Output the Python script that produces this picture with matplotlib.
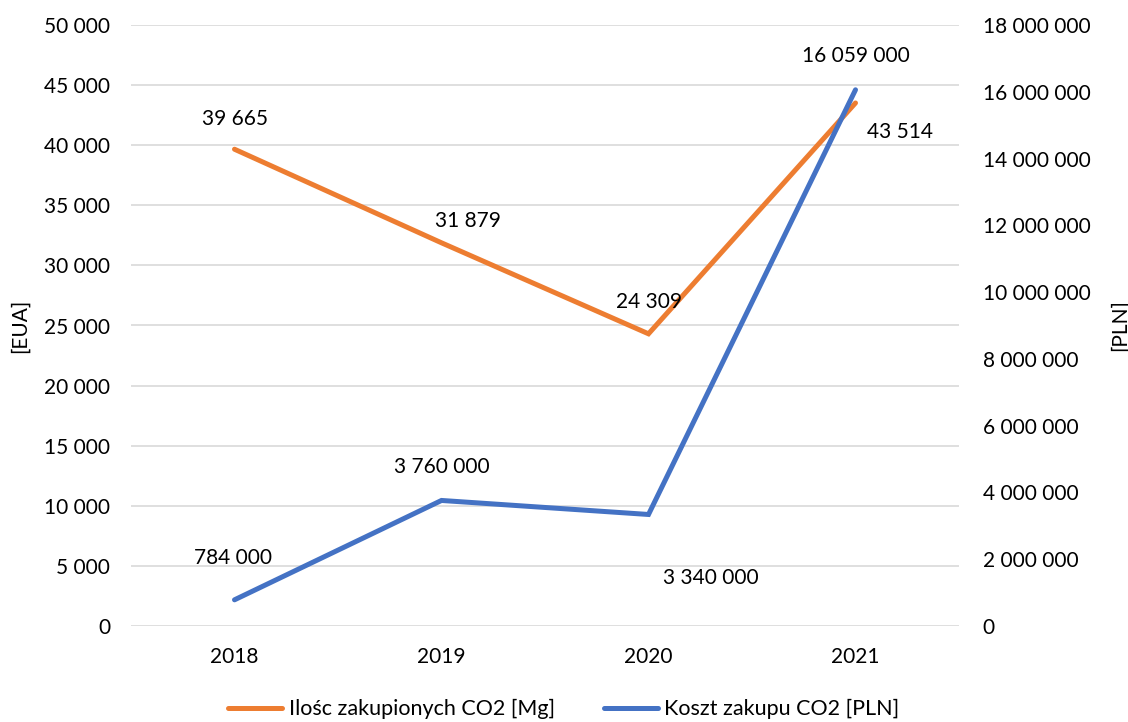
import matplotlib
matplotlib.use("Agg")
import matplotlib.pyplot as plt
from matplotlib.ticker import FuncFormatter, MultipleLocator

years = ["2018", "2019", "2020", "2021"]
ilosc = [39665, 31879, 24309, 43514]
koszt = [784000, 3760000, 3340000, 16059000]
name_ilosc = "Ilośc zakupionych CO2 [Mg]"
name_koszt = "Koszt zakupu CO2 [PLN]"

ORANGE = "#ED7D31"
BLUE = "#4472C4"
FONT = ["Lato", "DejaVu Sans"]
plt.rcParams["font.family"] = FONT
FS = 15

def sp(v, _=None):
    return f"{int(round(v)):,}".replace(",", " ")

W, H = 1128, 722
fig = plt.figure(figsize=(W/100, H/100), dpi=100)
L, R, T, B = 131, 959, 25, 626
ax = fig.add_axes([L/W, 1-B/H, (R-L)/W, (B-T)/H])
ax2 = ax.twinx()

x = list(range(len(years)))
l1, = ax.plot(x, ilosc, color=ORANGE, lw=3.6, solid_capstyle="round", solid_joinstyle="miter", zorder=3)
l2, = ax2.plot(x, koszt, color=BLUE, lw=3.6, solid_capstyle="round", solid_joinstyle="miter", zorder=3)

ax.set_xlim(-0.5, len(years)-0.5)
ax.set_ylim(0, 50000)
ax2.set_ylim(0, 18000000)
ax.yaxis.set_major_locator(MultipleLocator(5000))
ax2.yaxis.set_major_locator(MultipleLocator(2000000))
ax.yaxis.set_major_formatter(FuncFormatter(sp))
ax2.yaxis.set_major_formatter(FuncFormatter(sp))
ax.set_xticks(x)
ax.set_xticklabels(years)
ax.grid(axis="y", color="#D9D9D9", lw=1.2)
ax.set_axisbelow(True)
for a in (ax, ax2):
    for s in a.spines.values():
        s.set_visible(False)
    a.tick_params(length=0, labelsize=FS, colors="black")
ax.tick_params(axis="y", pad=15)
ax2.tick_params(axis="y", pad=17)
ax.tick_params(axis="x", pad=15)
ax.set_ylabel("[EUA]", fontsize=FS, labelpad=10)
ax2.set_ylabel("[PLN]", fontsize=FS, labelpad=14, rotation=90)

# data labels (offsets in points)
off1 = [(0, 22), (19, 16), (0, 23), (32, -21)]
off2 = [(-1, 30), (0, 24), (45, -46), (0, 24)]
for i in x:
    ax.annotate(sp(ilosc[i]), (i, ilosc[i]), xytext=off1[i], textcoords="offset points",
                ha="center", va="center", fontsize=FS, zorder=5)
    ax2.annotate(sp(koszt[i]), (i, koszt[i]), xytext=off2[i], textcoords="offset points",
                 ha="center", va="center", fontsize=FS, zorder=5)

fig.legend([l1, l2], [name_ilosc, name_koszt], loc="center", bbox_to_anchor=(0.5, 1-709/H),
           ncol=2, frameon=False, fontsize=15.5, handlelength=2.5, columnspacing=2.3,
           handletextpad=0.3, borderpad=0)

fig.savefig("out.png", dpi=100)
